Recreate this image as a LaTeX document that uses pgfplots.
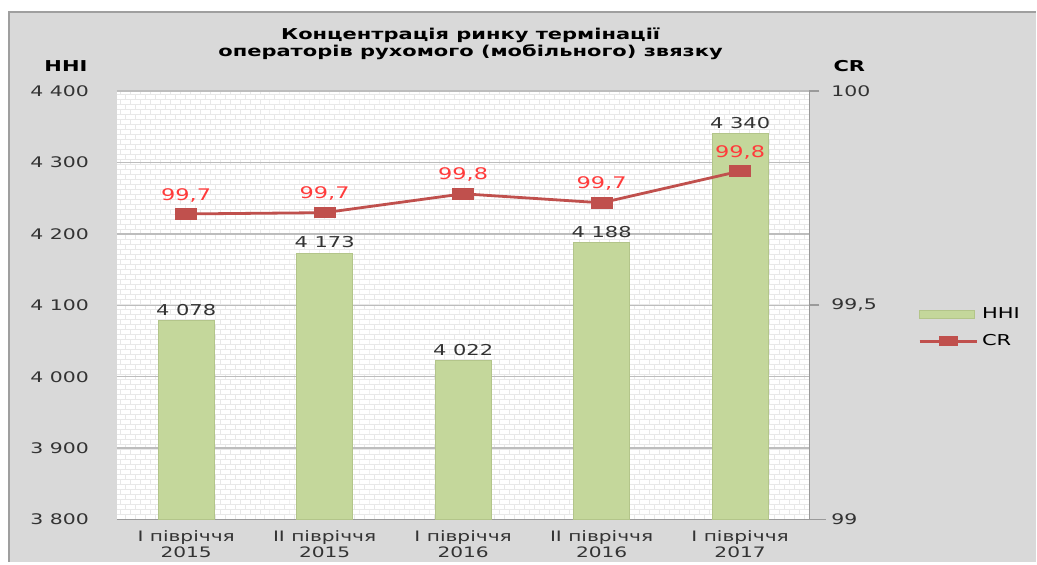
\documentclass[border=0pt]{standalone}
\usepackage{fontspec}
\setmainfont[FakeStretch=1.4]{DejaVu Sans}
\usepackage{pgfplots}
\pgfplotsset{compat=1.18}
\usetikzlibrary{patterns}

\definecolor{panel}{HTML}{D9D9D9}
\definecolor{barfill}{HTML}{C4D79B}
\definecolor{bardraw}{HTML}{B3C58A}
\definecolor{crline}{HTML}{C0504D}
\definecolor{crlabel}{HTML}{FF3B3B}
\definecolor{gridc}{HTML}{BDBDBD}
\definecolor{axisc}{HTML}{9A9A9A}
\definecolor{txt}{HTML}{333333}

% small brick texture of the plot area
\pgfdeclarepatternformonly{minibricks}{\pgfpoint{-0.2pt}{-0.2pt}}{\pgfpoint{5.2pt}{5.2pt}}{\pgfpoint{5pt}{5pt}}{
  \pgfsetlinewidth{0.3pt}
  \pgfpathmoveto{\pgfpoint{0pt}{0pt}}\pgfpathlineto{\pgfpoint{5pt}{0pt}}
  \pgfpathmoveto{\pgfpoint{0pt}{2.5pt}}\pgfpathlineto{\pgfpoint{5pt}{2.5pt}}
  \pgfpathmoveto{\pgfpoint{0pt}{0pt}}\pgfpathlineto{\pgfpoint{0pt}{2.5pt}}
  \pgfpathmoveto{\pgfpoint{2.5pt}{2.5pt}}\pgfpathlineto{\pgfpoint{2.5pt}{5pt}}
  \pgfusepath{stroke}}

\pgfplotsset{
  common/.style={
    scale only axis, width=346.5pt, height=214.5pt,
    xmin=-0.5, xmax=4.5,
    tick label style={font=\fontsize{7.3}{9}\selectfont, text=txt},
    /pgf/number format/assume math mode=true,
  },
  crlegend/.style={legend image code/.code={
    \draw[mark repeat=2, mark phase=2, ##1, mark size=2.3pt]
      plot coordinates {(0pt,0pt) (14.25pt,0pt) (28.5pt,0pt)};}},
  hhilegend/.style={legend image code/.code={
    \draw[fill=barfill, draw=bardraw, line width=0.5pt] (0pt,-2pt) rectangle (27.5pt,2pt);}},
}

\begin{document}
\begin{tikzpicture}[x=0.5pt,y=0.5pt]
% frame and texts, in pixels of the reference relative to the plot area's lower left corner
\begin{scope}[shift={(-117,-42)}]
  \fill[white] (0,0) rectangle (1037,562);
  \fill[panel] (9,0) rectangle (1037,550);
  \draw[gray!75, line width=0.8pt] (9,0) -- (9,550) -- (1037,550);
  \node[font=\bfseries\fontsize{7.5}{8.2}\selectfont, align=center, text=black] at (471,518)
    {Концентрація ринку термінації\\операторів рухомого (мобільного) звязку};
  \node[font=\bfseries\fontsize{7.5}{9}\selectfont] at (66,496) {HHI};
  \node[font=\bfseries\fontsize{7.5}{9}\selectfont] at (850,496) {CR};
\end{scope}

% HHI bars (left axis)
\begin{axis}[common,
  axis background/.style={fill=white, postaction={pattern=minibricks, pattern color=black!9}},
  ymin=3800, ymax=4400, ytick={3800,3900,...,4400},
  yticklabel style={/pgf/number format/fixed, /pgf/number format/1000 sep={\ }, xshift=-10.5pt},
  ymajorgrids, grid style={gridc, line width=0.7pt},
  axis x line*=bottom, axis y line*=left,
  y axis line style={draw=none},
  x axis line style={draw=axisc, line width=0.8pt, shorten >=-8.5pt, -},
  major tick length=0pt,
  xtick={0,1,2,3,4},
  xticklabels={І півріччя\\2015, ІІ півріччя\\2015, І півріччя\\2016, ІІ півріччя\\2016, І півріччя\\2017},
  xticklabel style={align=center, font=\fontsize{7.2}{7.8}\selectfont, yshift=-2pt},
]
\addplot[ybar, bar width=28pt, fill=barfill, draw=bardraw, line width=0.5pt,
  nodes near coords,
  nodes near coords style={font=\fontsize{7.5}{8}\selectfont, text=txt, yshift=-1pt,
    /pgf/number format/fixed, /pgf/number format/1000 sep={\ }, /pgf/number format/assume math mode=true},
] coordinates {(0,4078) (1,4173) (2,4022) (3,4188) (4,4340)};
\end{axis}

% CR line (right axis)
\begin{axis}[common,
  ymin=99, ymax=100, ytick={99,99.5,100},
  yticklabel style={/pgf/number format/fixed, /pgf/number format/use comma, /pgf/number format/1000 sep={}, xshift=2.5pt},
  axis x line=none, axis y line*=right,
  y axis line style={draw=axisc, line width=0.8pt, -},
  tick align=outside, major tick length=5pt,
  ytick style={draw=axisc, line width=0.8pt},
  legend style={at={(axis description cs:1.148,0.515)}, anchor=north west,
    draw=none, fill=none, font=\fontsize{7.5}{9}\selectfont, row sep=2.5pt},
  legend cell align=left,
]
\addlegendimage{hhilegend}
\addlegendentry{HHI}
\addplot[crline, line width=1.4pt, mark=square*,
  mark options={xscale=2, fill=crline, draw=crline, line width=0.4pt},
  mark size=2.6pt,
  point meta=explicit symbolic,
  nodes near coords,
  nodes near coords style={font=\fontsize{8}{9}\selectfont, text=crlabel, yshift=2.5pt},
  crlegend,
] coordinates {(0,99.713) [99,7] (1,99.716) [99,7] (2,99.760) [99,8] (3,99.739) [99,7] (4,99.813) [99,8]};
\addlegendentry{CR}
\end{axis}
\end{tikzpicture}
\end{document}
